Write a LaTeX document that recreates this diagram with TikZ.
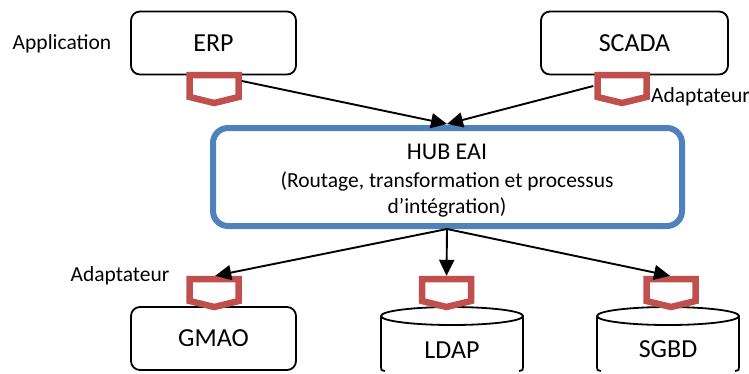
\documentclass[tikz,border=0pt]{standalone}
\usepackage{fontspec}
\setmainfont{Carlito}
\usetikzlibrary{arrows.meta}
\definecolor{adred}{HTML}{C0504D}
\definecolor{hubblue}{HTML}{4F81BD}
\tikzset{
  x=1pt,y=-1pt,
  boxnode/.style={draw=black,line width=1.8pt,rounded corners=9pt,inner sep=0pt,font=\fontsize{26}{30}\selectfont},
  lab/.style={inner sep=0pt,font=\fontsize{21.5}{25}\selectfont},
  ghost/.style={inner sep=0pt,minimum width=55pt,minimum height=34pt},
  adline/.style={draw=adred,line width=6.5pt,miter limit=10},
  conn/.style={draw=black,line width=1.9pt,-{Triangle[length=16pt,width=15pt]}},
  cyl/.style={draw=black,line width=1.8pt},
}
\newcommand{\adapt}[3]{%
  \node[ghost] (#1) at (#2,#3) {};
  \draw[adline] (#2-24.5,#3-14) -- (#2+24.5,#3-14) -- (#2+24.5,#3+8) -- (#2,#3+14) -- (#2-24.5,#3+8) -- cycle;
}
\newcommand{\cylinder}[5]{% name, left x, right x, label, label y
  \draw[cyl] ({(#2+#3)/2},316) ellipse [x radius={(#3-#2)/2},y radius=9];
  \draw[cyl] (#2,316) -- (#2,367) .. controls (#2,370) .. (#2+4,371);
  \draw[cyl] (#3,316) -- (#3,367) .. controls (#3,370) .. (#3-4,371);
  \node[inner sep=0pt,font=\fontsize{26}{30}\selectfont] (#1) at ({(#2+#3)/2},#5) {#4};
}
\begin{document}
\begin{tikzpicture}
\useasboundingbox (0,0) rectangle (749,373);
\node[boxnode,minimum width=165pt,minimum height=63pt] (erp) at (213.5,43) {ERP};
\node[boxnode,minimum width=187pt,minimum height=63pt] (scada) at (634.5,43) {SCADA};
\node[boxnode,minimum width=165pt,minimum height=63pt] (gmao) at (213.5,338.5) {GMAO};
\cylinder{ldap}{381}{523}{LDAP}{350}
\cylinder{sgbd}{597}{739}{SGBD}{349}
\node[draw=hubblue,line width=6pt,rounded corners=15pt,minimum width=469pt,minimum height=98pt,inner sep=0pt] (hub) at (447.5,177) {};
\node[inner sep=0pt,font=\fontsize{24}{28}\selectfont] (hubt1) at (447,152) {HUB EAI};
\node[lab] (hubt2) at (447,181) {(Routage, transformation et processus};
\node[lab] (hubt3) at (447,207) {d’intégration)};
\node[lab] (lapp) at (62,44) {Application};
\node[lab] (lad1) at (700.5,97) {Adaptateur};
\node[lab] (lad2) at (120,276) {Adaptateur};
\adapt{a1}{214.2}{89}
\adapt{a2}{622}{89}
\adapt{a3}{214.2}{293}
\adapt{a4}{446.5}{293}
\adapt{a5}{671}{293}
\coordinate (hubin) at (447,124);
\coordinate (hubout) at (447,229);
\draw[conn] ([yshift=8pt]a1.east) -- (hubin);
\draw[conn] ([xshift=-1pt,yshift=3pt]a2.west) -- (hubin);
\draw[conn] (hubout) -- ([xshift=1pt]a3.north);
\draw[conn] (hubout) -- (a4.north);
\draw[conn] (hubout) -- ([xshift=-1pt]a5.north);
\end{tikzpicture}
\end{document}
